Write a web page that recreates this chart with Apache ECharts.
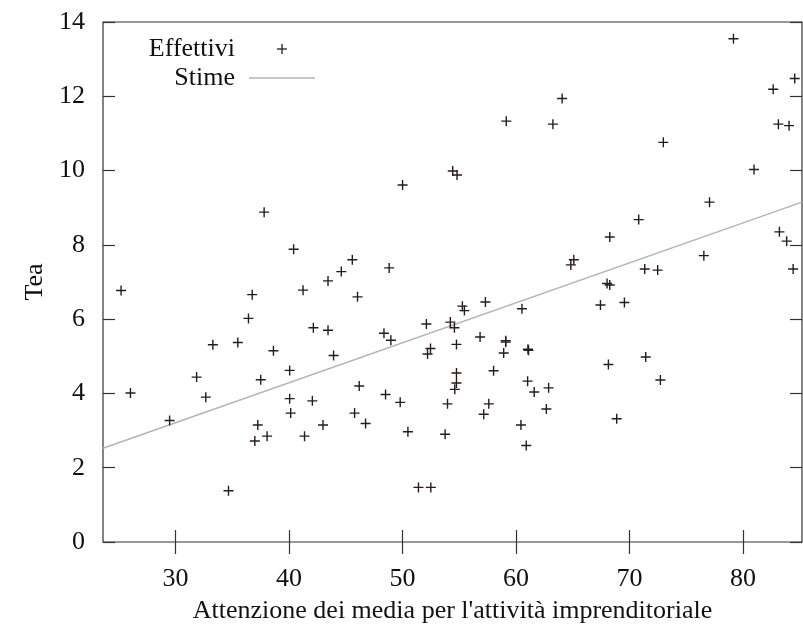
<!DOCTYPE html>
<html>
<head>
<meta charset="utf-8">
<script src="https://cdn.jsdelivr.net/npm/echarts@6/dist/echarts.min.js"></script>
<style>
  html, body { margin: 0; padding: 0; background: #fff; }
  #chart { width: 803px; height: 627px; }
</style>
</head>
<body>
<div id="chart"></div>
<script>
// valori osservati (attenzione media, tea)
const effettiviX = [
  50.0, 54.42, 54.8, 59.14, 63.25, 64.06, 79.16, 84.56, 82.66, 83.12, 84.06, 72.98, 80.97,
  37.8, 40.4, 25.19, 36.75, 41.23, 43.43, 36.42, 42.14, 43.43, 33.28, 35.48, 38.62, 43.92,
  45.57, 44.6, 48.82, 46.03, 48.36, 48.97, 52.1, 54.21, 54.57, 55.27, 55.45, 57.3, 60.52,
  56.83, 59.09, 59.09, 54.75, 52.46, 52.2, 58.91, 61.05, 61.1,
  77.05, 70.81, 68.26, 65.09, 64.83, 76.55, 83.21, 83.85, 84.42, 71.34, 72.48, 68.02, 68.26,
  67.44, 69.55, 68.14, 71.43,
  40.05, 31.85, 37.5, 26.02, 32.66, 40.05, 42.05, 40.14, 29.47, 42.99, 37.24, 38.06, 36.98,
  41.36, 34.66,
  46.18, 45.77, 46.74, 48.5, 49.79, 50.47, 51.4, 52.49, 54.75, 54.75, 54.6, 53.96, 53.75,
  58.02, 57.6, 57.15, 61.02, 61.6, 62.87, 62.67, 60.43, 60.9, 72.72, 68.87
]
const effettiviY = [
  9.61, 9.99, 9.88, 11.33, 11.25, 11.94, 13.55, 12.48, 12.19, 11.25, 11.21, 10.76, 10.03,
  8.88, 7.88, 6.77, 6.66, 6.78, 7.03, 6.02, 5.77, 5.7, 5.31, 5.37, 5.15, 5.02,
  7.6, 7.28, 7.38, 6.6, 5.62, 5.43, 5.87, 5.92, 5.77, 6.35, 6.23, 6.46, 6.28,
  5.52, 5.42, 5.38, 5.32, 5.21, 5.06, 5.09, 5.19, 5.16,
  9.15, 8.68, 8.21, 7.6, 7.46, 7.71, 8.35, 8.1, 7.35, 7.35, 7.32, 6.96, 6.92,
  6.38, 6.45, 4.78, 4.98,
  4.62, 4.44, 4.37, 4.01, 3.9, 3.86, 3.8, 3.47, 3.27, 3.15, 3.15, 2.85, 2.72,
  2.85, 1.38,
  4.2, 3.47, 3.19, 3.97, 3.76, 2.97, 1.47, 1.47, 4.55, 4.28, 4.11, 3.72, 2.9,
  4.61, 3.72, 3.44, 4.33, 4.04, 4.15, 3.58, 3.15, 2.6, 4.36, 3.32
]

// retta stimata: tea = a + b * x
const stimeIntercetta = -0.017
const stimePendenza = 0.1076

const xTicks = [30, 40, 50, 60, 70, 80]
const xRange = [23.6, 85.2]
const yRange = [0, 14]

const plus = 'path://M4.3,0H5.7V4.3H10V5.7H5.7V10H4.3V5.7H0V4.3H4.3Z'
const font = 'Liberation Serif'
const fontSize = 26
const axisColor = '#333'
const textColor = '#111'
const pointColor = '#2b1a1a'
const lineColor = '#b4b4b8'

const punti = effettiviX.map((x, i) => [x, effettiviY[i]])
const stime = xRange.map(x => [x, stimeIntercetta + stimePendenza * x])

const chart = echarts.init(document.getElementById('chart'))

const tickStyle = { color: axisColor, width: 1.2 }
const labelFont = { fontFamily: font, fontSize: fontSize, color: textColor }

chart.setOption({
  animation: false,
  backgroundColor: '#fff',
  textStyle: { fontFamily: font },
  grid: {
    left: 103, right: 1, top: 22, bottom: 85,
    outerBoundsMode: 'none',
    show: true, borderColor: axisColor, borderWidth: 1.2
  },
  xAxis: [{
    type: 'value',
    min: xRange[0], max: xRange[1],
    name: "Attenzione dei media per l'attività imprenditoriale",
    nameLocation: 'middle',
    nameGap: 56,
    nameTextStyle: labelFont,
    axisLine: { show: false },
    splitLine: { show: false },
    axisTick: { inside: true, length: 12, customValues: xTicks, lineStyle: tickStyle },
    axisLabel: Object.assign({ customValues: xTicks, margin: 24 }, labelFont)
  }, {
    type: 'value', position: 'top',
    min: xRange[0], max: xRange[1],
    axisLine: { show: false },
    axisLabel: { show: false },
    splitLine: { show: false },
    axisTick: { inside: true, length: 12, customValues: xTicks, lineStyle: tickStyle }
  }],
  yAxis: [{
    type: 'value',
    min: yRange[0], max: yRange[1], interval: 2,
    name: 'Tea',
    nameLocation: 'middle',
    nameGap: 42,
    nameTextStyle: labelFont,
    axisLine: { show: false },
    splitLine: { show: false },
    axisTick: { inside: true, length: 12, lineStyle: tickStyle },
    axisLabel: Object.assign({ margin: 18 }, labelFont)
  }, {
    type: 'value', position: 'right',
    min: yRange[0], max: yRange[1], interval: 2,
    axisLine: { show: false },
    axisLabel: { show: false },
    splitLine: { show: false },
    axisTick: { inside: true, length: 12, lineStyle: tickStyle }
  }],
  // legenda in stile gnuplot: testo a destra, simbolo dopo
  graphic: [
    { type: 'text', x: 235, y: 49,
      style: { text: 'Effettivi', font: fontSize + 'px "Liberation Serif"', fill: textColor,
        align: 'right', verticalAlign: 'middle' } },
    { type: 'line', shape: { x1: 277, y1: 49, x2: 287, y2: 49 },
      style: { stroke: pointColor, lineWidth: 1.3 } },
    { type: 'line', shape: { x1: 282, y1: 44, x2: 282, y2: 54 },
      style: { stroke: pointColor, lineWidth: 1.3 } },
    { type: 'text', x: 235, y: 78,
      style: { text: 'Stime', font: fontSize + 'px "Liberation Serif"', fill: textColor,
        align: 'right', verticalAlign: 'middle' } },
    { type: 'line', shape: { x1: 249, y1: 78, x2: 315, y2: 78 },
      style: { stroke: lineColor, lineWidth: 1.5 } }
  ],
  series: [{
    name: 'Stime',
    type: 'line',
    data: stime,
    showSymbol: false,
    lineStyle: { color: lineColor, width: 1.5 },
    z: 1
  }, {
    name: 'Effettivi',
    type: 'scatter',
    data: punti,
    symbol: plus,
    symbolSize: 10,
    itemStyle: { color: pointColor, opacity: 1 },
    z: 2
  }]
})
</script>
</body>
</html>
